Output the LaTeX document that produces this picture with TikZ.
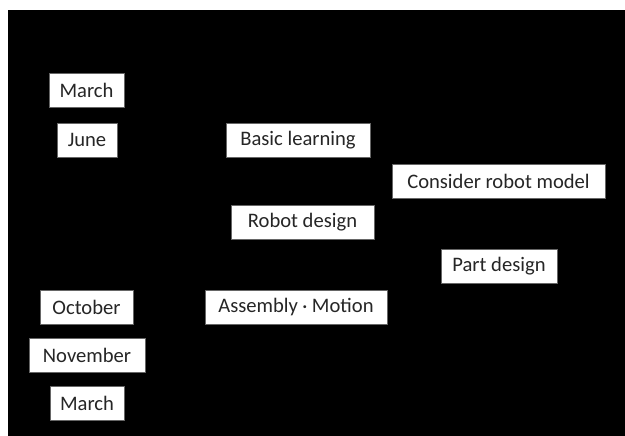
\documentclass[tikz,border=0pt]{standalone}
\usepackage{fontspec}
\setmainfont{Carlito}
\newfontfamily\cjk{Noto Sans CJK JP}
\begin{document}
\begin{tikzpicture}[x=1pt,y=-1pt,
  label box/.style={fill=white,draw=black!60,line width=0.4pt,inner sep=0pt,
    minimum height=34pt,font=\fontsize{20.6}{24}\selectfont,text=black!85}]
\useasboundingbox (0,0) rectangle (625,436);
\fill[black] (8,10) rectangle (625,436);
% month column
\node[label box,minimum width=75pt] (mar1) at (86.5,90.5) {March};
\node[label box,minimum width=60pt] (jun)  at (87,140) {June};
\node[label box,minimum width=93pt] (oct)  at (86.5,307) {October};
\node[label box,minimum width=116pt] (nov) at (87,355) {November};
\node[label box,minimum width=74pt] (mar2) at (87,403.5) {March};
% activities
\node[label box,minimum width=144pt] (basic) at (298,140) {Basic learning};
\node[label box,minimum width=213pt] (model) at (498.5,181) {Consider robot model};
\node[label box,minimum width=143pt] (robot) at (302.5,222.5) {Robot design};
\node[label box,minimum width=116pt] (part)  at (499,266) {Part design};
\node[label box,minimum width=182pt] (asm)   at (296,307)
  {Assembly{\cjk\fontsize{14}{14}\selectfont ・}Motion};
\end{tikzpicture}
\end{document}
